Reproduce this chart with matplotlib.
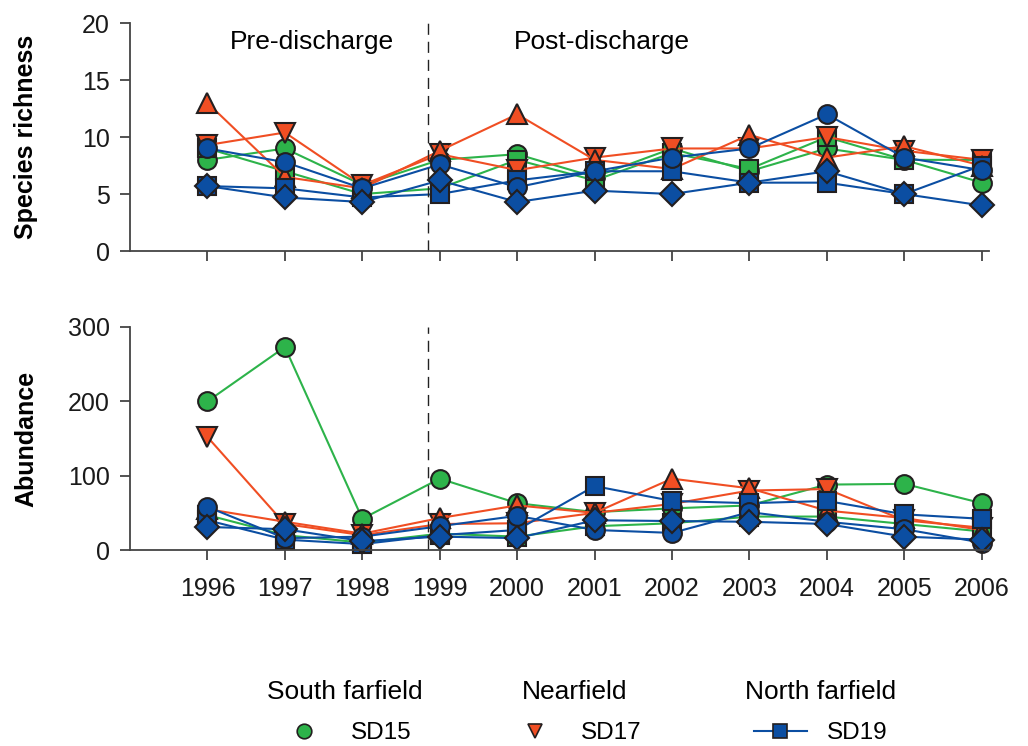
import numpy as np
import matplotlib
matplotlib.use('Agg')
import matplotlib.pyplot as plt
from matplotlib.lines import Line2D

plt.rcParams['font.family'] = ['Liberation Sans', 'DejaVu Sans']

YEARS = list(range(1996, 2007))
DISCHARGE = 1998.85

SITES = ['SD15', 'SD16', 'SD17', 'SD18', 'SD19', 'SD20', 'SD21']

richness = {
    'SD15': [8, 9, 5.8, 8, 8.5, 6.5, 9, 7, 9, 8, 6],
    'SD16': [9, 7, 5, 5.5, 8, 6.2, 8.6, 7.2, 10, 8, 8],
    'SD17': [9.3, 10.4, 5.8, 8.5, 7.1, 8.2, 9, 9, 10, 8.8, 8],
    'SD18': [13, 6.5, 5.5, 8.8, 12, 8, 7.2, 10.2, 8.2, 9.2, 7.5],
    'SD19': [5.7, 5.5, 4.7, 5, 6.2, 7, 7, 6, 6, 5, 7.5],
    'SD20': [9, 7.8, 5.5, 7.6, 5.6, 7, 8.2, 9, 12, 8.2, 7.1],
    'SD21': [5.7, 4.7, 4.3, 6.2, 4.3, 5.3, 5, 6, 7, 5, 4],
}

abundance = {
    'SD15': [200, 273, 42, 96, 63, 51, 56, 60, 88, 89, 63],
    'SD16': [47, 20, 10, 22, 18, 32, 36, 45, 45, 35, 25],
    'SD17': [152, 35, 20, 35, 36, 50, 62, 80, 82, 40, 30],
    'SD18': [55, 38, 22, 43, 60, 50, 96, 83, 53, 43, 27],
    'SD19': [40, 14, 8, 20, 27, 86, 66, 63, 66, 48, 42],
    'SD20': [58, 16, 18, 32, 46, 27, 23, 51, 38, 28, 10],
    'SD21': [31, 28, 12, 18, 16, 40, 39, 38, 35, 18, 14],
}

GREEN = '#2db34a'
RED = '#f04e23'
BLUE = '#0b4ea2'
EDGE = '#231f20'

styles = {
    'SD15': (GREEN, 'o'),
    'SD16': (GREEN, 's'),
    'SD17': (RED, 'v'),
    'SD18': (RED, '^'),
    'SD19': (BLUE, 's'),
    'SD20': (BLUE, 'o'),
    'SD21': (BLUE, 'D'),
}
marker_sizes = {'o': 13.5, 's': 12.5, 'v': 14.5, '^': 14.5, 'D': 12}


def style_axis(ax, ymax, ystep, ylabel):
    ax.set_xlim(1995, 2006.1)
    ax.set_ylim(0, ymax)
    ax.set_yticks(np.arange(0, ymax + 1, ystep))
    ax.set_xticks(YEARS)
    for side in ['top', 'right']:
        ax.spines[side].set_visible(False)
    for side in ['left', 'bottom']:
        ax.spines[side].set_color('#444444')
        ax.spines[side].set_linewidth(1.3)
    ax.tick_params(axis='both', direction='out', colors='#444444', labelcolor='#1a1a1a',
                   labelsize=18, width=1.3, length=7.5)
    ax.tick_params(axis='y', pad=7)
    ax.set_ylabel(ylabel, fontsize=18, fontweight='bold')
    ax.yaxis.set_label_coords(-0.107, 0.5)
    ax.axvline(DISCHARGE, color='#222222', linestyle=(0, (8, 5)), linewidth=1)


def draw_series(ax, data):
    for site in SITES:
        color, marker = styles[site]
        ax.plot(YEARS, data[site], color=color, marker=marker,
                markersize=marker_sizes[marker], markerfacecolor=color,
                markeredgecolor=EDGE, markeredgewidth=1.5,
                linewidth=1.5, clip_on=False)


fig = plt.figure(figsize=(10.28, 7.46), dpi=100)
ax1 = fig.add_axes([0.1265, 0.6635, 0.836, 0.3055])
ax2 = fig.add_axes([0.1265, 0.2627, 0.836, 0.299])

draw_series(ax1, richness)
style_axis(ax1, 20, 5, 'Species richness')
ax1.tick_params(axis='x', labelbottom=False)
ax1.text(1997.35, 18.3, 'Pre-discharge', fontsize=19, ha='center', va='center')
ax1.text(2001.1, 18.3, 'Post-discharge', fontsize=19, ha='center', va='center')

draw_series(ax2, abundance)
style_axis(ax2, 300, 100, 'Abundance')
ax2.tick_params(axis='x', pad=12)

# legend: one group per area
groups = [('South farfield', 'SD15', False, 0.335),
          ('Nearfield', 'SD17', False, 0.559),
          ('North farfield', 'SD19', True, 0.798)]
for title, site, with_line, xpos in groups:
    color, marker = styles[site]
    h = Line2D([], [], color=color if with_line else 'none', marker=marker,
               markersize=10.5, markerfacecolor=color, markeredgecolor=EDGE,
               markeredgewidth=1.2, linewidth=1.5)
    leg = fig.legend(handles=[h], labels=[site], title=title, loc='center',
                     bbox_to_anchor=(xpos, 0.045), frameon=False, fontsize=17.5,
                     title_fontsize=19, handlelength=2.2, handletextpad=0.8,
                     borderaxespad=0)
    leg._legend_box.sep = 13

fig.savefig('out.png', dpi=100)
plt.close(fig)
